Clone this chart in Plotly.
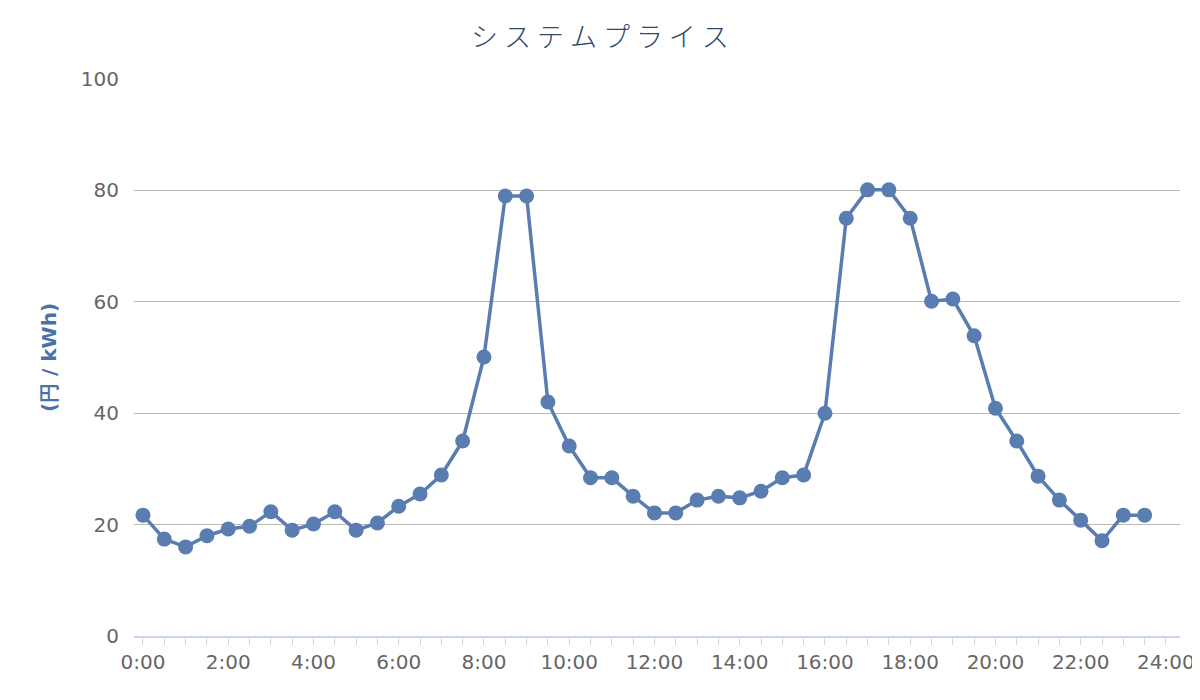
import plotly.graph_objects as go

hours = [i * 0.5 for i in range(48)]
prices = [21.7, 17.4, 16.0, 18.0, 19.2, 19.7, 22.3, 19.0, 20.1, 22.3, 19.0, 20.3,
          23.3, 25.5, 28.9, 35.0, 50.1, 79.0, 79.0, 42.0, 34.1, 28.4, 28.4, 25.1,
          22.1, 22.1, 24.4, 25.1, 24.8, 26.0, 28.4, 28.9, 40.0, 75.0, 80.1, 80.1,
          75.0, 60.1, 60.5, 53.9, 40.9, 35.0, 28.7, 24.4, 20.8, 17.1, 21.7, 21.7]
tick_hours = list(range(0, 25, 2))
tick_labels = [f"{h}:00" for h in tick_hours]
y_ticks = [0, 20, 40, 60, 80, 100]

color = "#5a7db1"

fig = go.Figure()
fig.add_trace(go.Scatter(
    x=hours, y=prices, mode="lines+markers",
    line=dict(color=color, width=3.5),
    marker=dict(color=color, size=15),
    cliponaxis=False, showlegend=False,
))

fig.update_layout(
    width=1200, height=700,
    paper_bgcolor="white", plot_bgcolor="white",
    margin=dict(l=126, r=28, t=71, b=72),
    title=dict(text="シ ス テ ム プ ラ イ ス", x=0.4933, xanchor="center", y=0.958, yanchor="middle",
               font=dict(family="Noto Sans CJK JP", size=27, color="#2e4a68", weight=300)),
    font=dict(family="DejaVu Sans", color="#666666"),
)
fig.update_xaxes(
    range=[-0.211, 24.33],
    tickvals=tick_hours, ticktext=tick_labels,
    ticks="outside", ticklen=7, tickcolor="#ccd6eb", tickwidth=1,
    minor=dict(dtick=0.5, tick0=0, ticks="outside", ticklen=7, tickcolor="#ccd6eb", tickwidth=1, showgrid=False),
    showline=True, linecolor="#ccd6eb", linewidth=2,
    showgrid=False, zeroline=False,
    tickfont=dict(size=20, color="#666666"),
)
fig.update_yaxes(
    range=[0, 100], tickvals=y_ticks,
    showgrid=True, gridcolor="#b8b8b8", gridwidth=1,
    zeroline=False, showline=False, ticks="",
    ticklabelstandoff=14,
    tickfont=dict(size=20, color="#666666"),
    title=dict(text="(円 / kWh)", standoff=18,
               font=dict(size=20, color="#4a72a8", family="DejaVu Sans", weight="bold")),
)

fig.write_html("out.html")
